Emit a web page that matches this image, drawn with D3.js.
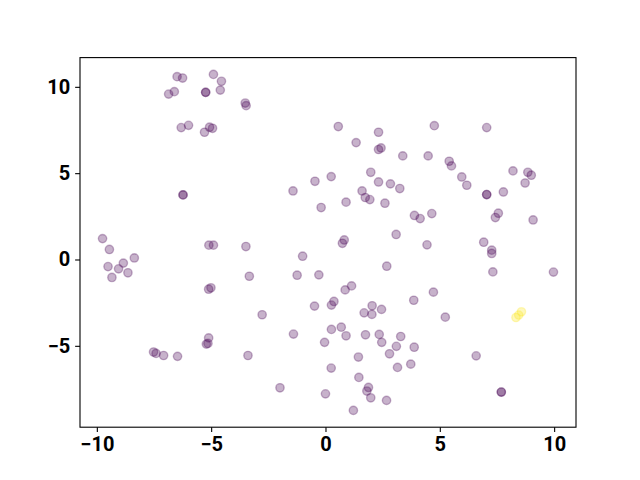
<!DOCTYPE html>
<html>
<head>
<meta charset="utf-8">
<script src="https://cdn.jsdelivr.net/npm/d3@7"></script>
<style>
  body { margin: 0; background: #fff; }
  .tick text { font-family: Roboto, sans-serif; font-weight: 700; font-size: 20px; fill: #000; }
</style>
</head>
<body>
<script>
// point coordinates
const xs = [-6.49, -6.25, -4.90, -4.55, -4.60, -5.24, -5.24, -6.86, -6.61, -3.51, -3.47,
  -6.31, -5.99, -5.07, -4.94, -5.29, -6.23, -6.23,
  -9.75, -9.45, -9.51, -9.34, -9.05, -8.84, -8.64, -8.36,
  -5.10, -4.90, -3.48, -3.33, -5.11, -5.01, -5.11, -5.21, -5.14, -7.52, -7.41, -7.08, -6.47, -3.39,
  0.56, 2.32, 1.34, 2.32, 2.43, 3.38, 1.98, 0.25, -0.46, 2.32, 2.84, 3.25, -1.42, 1.60, 1.74, 1.94,
  0.90, 2.60, -0.19, 3.89, 4.14, 4.65, 3.09, 0.82, 0.74,
  4.76, 7.05, 4.49, 5.41, 5.51, 5.96, 6.18, 8.20, 8.85, 9.00, 8.73, 7.05, 7.05, 7.78, 7.56, 7.43,
  9.08, 6.92, 4.44,
  7.27, 7.27, 7.32, 9.97, 4.72, 3.86, 5.24, 8.33, 8.45, 8.57, 3.88, 3.73, 6.59, 7.69, 7.69,
  -1.00, 2.68, -1.24, -0.29, 0.86, 1.14, -0.48, 0.37, 0.26, -2.77, 1.69, 2.04, 2.03, 2.45,
  -1.40, 0.26, 0.69, 0.90, -0.04, 1.75, 2.35, 2.46, 3.29, 3.10, 2.80, 1.44, 3.15, 0.25, 1.46,
  -1.99, 1.88, 1.81, 1.98, 0.00, 2.67, 1.22];
const ys = [10.59, 10.51, 10.72, 10.32, 9.81, 9.68, 9.68, 9.58, 9.72, 9.06, 8.91,
  7.64, 7.77, 7.66, 7.60, 7.37, 3.74, 3.74,
  1.21, 0.58, -0.41, -1.04, -0.54, -0.21, -0.77, 0.09,
  0.83, 0.83, 0.75, -0.97, -1.72, -1.64, -4.54, -4.90, -4.86, -5.36, -5.44, -5.56, -5.61, -5.56,
  7.70, 7.37, 6.77, 6.37, 6.46, 6.00, 5.05, 4.80, 4.53, 4.49, 4.38, 4.11, 3.97, 3.97, 3.59, 3.47,
  3.32, 3.26, 3.01, 2.55, 2.37, 2.66, 1.45, 1.13, 0.94,
  7.75, 7.64, 6.00, 5.69, 5.42, 4.78, 4.30, 5.13, 5.05, 4.88, 4.43, 3.76, 3.76, 3.91, 2.68, 2.43,
  2.29, 1.00, 0.85,
  0.54, 0.35, -0.72, -0.73, -1.89, -2.36, -3.34, -3.36, -3.22, -3.03, -5.08, -6.06, -5.58, -7.68, -7.68,
  0.19, -0.39, -0.91, -0.89, -1.76, -1.53, -2.70, -2.43, -2.64, -3.20, -3.09, -2.68, -3.18, -2.89,
  -4.32, -4.05, -3.92, -4.42, -4.80, -4.36, -4.34, -4.80, -4.46, -5.03, -5.46, -5.65, -6.25, -6.29, -6.83,
  -7.43, -7.41, -7.62, -8.01, -7.78, -8.16, -8.74];
// colour class of each point (the small yellow cluster is 1)
const labels = [0, 0, 0, 0, 0, 0, 0, 0, 0, 0, 0,
  0, 0, 0, 0, 0, 0, 0,
  0, 0, 0, 0, 0, 0, 0, 0,
  0, 0, 0, 0, 0, 0, 0, 0, 0, 0, 0, 0, 0, 0,
  0, 0, 0, 0, 0, 0, 0, 0, 0, 0, 0, 0, 0, 0, 0, 0,
  0, 0, 0, 0, 0, 0, 0, 0, 0,
  0, 0, 0, 0, 0, 0, 0, 0, 0, 0, 0, 0, 0, 0, 0, 0,
  0, 0, 0,
  0, 0, 0, 0, 0, 0, 0, 1, 1, 1, 0, 0, 0, 0, 0,
  0, 0, 0, 0, 0, 0, 0, 0, 0, 0, 0, 0, 0, 0,
  0, 0, 0, 0, 0, 0, 0, 0, 0, 0, 0, 0, 0, 0, 0,
  0, 0, 0, 0, 0, 0, 0];
const xTicks = [-10, -5, 0, 5, 10];
const yTicks = [-5, 0, 5, 10];

const width = 640, height = 480;
const mLeft = 80, mRight = 576, mTop = 57.6, mBottom = 427.2;

// matplotlib style 5% margin around the data
function padded(vals) {
  const [a, b] = d3.extent(vals);
  const m = (b - a) * 0.05;
  return [a - m, b + m];
}

const svg = d3.select('body').append('svg')
    .attr('width', width)
    .attr('height', height);

var xScale = d3.scaleLinear().domain(padded(xs)).range([mLeft, mRight]);
var yScale = d3.scaleLinear().domain(padded(ys)).range([mBottom, mTop]);
const color = d3.scaleSequential(d3.interpolateViridis).domain([0, 1]);

const data = xs.map((x, i) => ({ x: x, y: ys[i], c: labels[i] }));

svg.append('g')
  .selectAll('circle')
  .data(data)
  .enter()
  .append('circle')
  .attr('cx', d => xScale(d.x))
  .attr('cy', d => yScale(d.y))
  .attr('r', 4.17)
  .attr('fill', d => color(d.c))
  .attr('fill-opacity', 0.3)
  .attr('stroke', d => color(d.c))
  .attr('stroke-opacity', 0.3)
  .attr('stroke-width', 1.39);

var xAxis = d3.axisBottom(xScale).tickValues(xTicks).tickSizeOuter(0).tickSize(4.86).tickPadding(4.86);
svg.append('g')
    .attr('transform', `translate(0, ${mBottom})`)
    .call(xAxis);

var yAxis = d3.axisLeft(yScale).tickValues(yTicks).tickSizeOuter(0).tickSize(4.86).tickPadding(4.86);
svg.append('g')
    .attr('transform', `translate(${mLeft}, 0)`)
    .call(yAxis);

svg.selectAll('.domain').remove();
svg.selectAll('.tick line').attr('stroke', '#000').attr('stroke-width', 1.1);

svg.append('rect')
  .attr('x', mLeft)
  .attr('y', mTop)
  .attr('width', mRight - mLeft)
  .attr('height', mBottom - mTop)
  .attr('fill', 'none')
  .attr('stroke', '#000')
  .attr('stroke-width', 1.1);
</script>
</body>
</html>
